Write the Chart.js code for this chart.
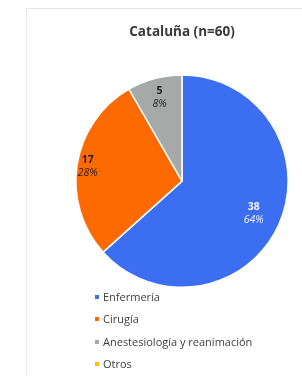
<!DOCTYPE html>
<html>
<head>
<meta charset="utf-8">
<script src="https://cdn.jsdelivr.net/npm/chart.js@4.4.0/dist/chart.umd.min.js"></script>
<style>
  html, body { margin: 0; padding: 0; background: #fff; }
  body { width: 302px; height: 376px; position: relative; overflow: hidden; font-family: 'Open Sans', sans-serif; }
  #frame { position: absolute; left: 26px; top: 8px; width: 300px; height: 400px; border: 1px solid #e6e6e6; }
  #wrap { position: absolute; left: 0; top: 0; width: 302px; height: 376px; }
  #legend { position: absolute; left: 95px; top: 288px; font-size: 11px; color: #404040; }
  #legend div { height: 22.3px; line-height: 17px; white-space: nowrap; }
  #legend span.box { display: inline-block; width: 4px; height: 4px; margin-right: 4px; vertical-align: 2px; }
</style>
</head>
<body>
<div id="frame"></div>
<div id="wrap"><canvas id="chart"></canvas></div>
<div id="legend"></div>
<script>
const categories = ['Enfermería', 'Cirugía', 'Anestesiología y reanimación', 'Otros'];
const counts = [38, 17, 5, 0];
const pctLabels = ['64%', '28%', '8%', '0%'];
const colors = ['#3b6ef0', '#fd6a02', '#a5a9a7', '#ffc000'];

// where each label sits, as a share of the radius, and its text colour
const labelRadius = [0.74, 0.9, 0.82, 0.8];
const labelColor = ['#f2f5ff', '#2a1a10', '#222222', '#222222'];

const sliceLabels = {
  id: 'sliceLabels',
  afterDatasetsDraw(chart) {
    const ctx = chart.ctx;
    const meta = chart.getDatasetMeta(0);
    meta.data.forEach((arc, i) => {
      if (!counts[i]) return;
      const p = arc.getProps(['x', 'y', 'startAngle', 'endAngle', 'outerRadius'], true);
      const mid = (p.startAngle + p.endAngle) / 2;
      const r = p.outerRadius * labelRadius[i];
      const x = p.x + Math.cos(mid) * r;
      const y = p.y + Math.sin(mid) * r;
      ctx.save();
      ctx.fillStyle = labelColor[i];
      ctx.textAlign = 'center';
      ctx.textBaseline = 'middle';
      ctx.font = 'bold 10.5px "Open Sans"';
      ctx.fillText(String(counts[i]), x, y - 6.5);
      ctx.font = 'italic 10.5px "Open Sans"';
      ctx.fillText(pctLabels[i], x, y + 6.5);
      ctx.restore();
    });
  }
};

function buildLegend() {
  const el = document.getElementById('legend');
  categories.forEach((c, i) => {
    const row = document.createElement('div');
    row.innerHTML = `<span class="box" style="background:${colors[i]}"></span>${c}`;
    el.appendChild(row);
  });
}

function renderChart() {
  const ctx = document.getElementById('chart');
  new Chart(ctx, {
    type: 'pie',
    data: {
      labels: categories,
      datasets: [{
        data: counts,
        backgroundColor: colors,
        borderColor: '#ffffff',
        borderWidth: 1.5,
      }],
    },
    options: {
      responsive: true,
      maintainAspectRatio: false,
      animation: false,
      layout: { padding: { left: 75, right: 13, top: 0, bottom: 88 } },
      plugins: {
        legend: { display: false },
        tooltip: { enabled: false },
        title: {
          display: true,
          text: 'Cataluña (n=60)',
          color: '#3a3a3a',
          font: { family: 'Open Sans', size: 13.5, weight: 'bold', lineHeight: 1.2 },
          padding: { top: 24, bottom: 34 },
        },
      },
    },
    plugins: [sliceLabels],
  });
}

document.addEventListener('DOMContentLoaded', () => {
  buildLegend();
  renderChart();
});
</script>
</body>
</html>
